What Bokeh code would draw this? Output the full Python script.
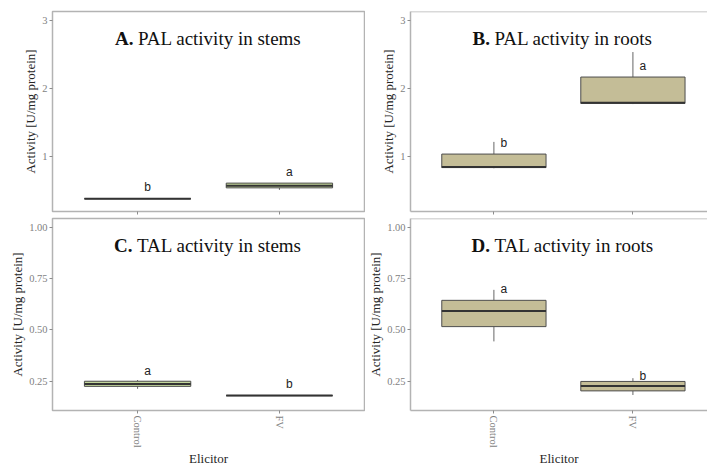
from bokeh.plotting import figure
from bokeh.layouts import row, column
from bokeh.models import Range1d, FixedTicker, Label, Span, ColumnDataSource, PrintfTickFormatter
from bokeh.core.properties import value
from bokeh.embed import file_html
from bokeh.resources import INLINE

# ---------------- data ----------------
categories = ["Control", "FV"]

pal_stem_q1 = [0.37, 0.53]
pal_stem_med = [0.37, 0.56]
pal_stem_q3 = [0.37, 0.60]
pal_stem_lo = [0.37, 0.50]
pal_stem_hi = [0.37, 0.60]
pal_stem_letters = ["b", "a"]
pal_stem_letter_y = [0.55, 0.77]

pal_root_q1 = [0.83, 1.78]
pal_root_med = [0.84, 1.79]
pal_root_q3 = [1.03, 2.17]
pal_root_lo = [0.82, 1.77]
pal_root_hi = [1.21, 2.54]
pal_root_letters = ["b", "a"]
pal_root_letter_y = [1.20, 2.34]

tal_stem_q1 = [0.225, 0.18]
tal_stem_med = [0.236, 0.18]
tal_stem_q3 = [0.25, 0.18]
tal_stem_lo = [0.213, 0.18]
tal_stem_hi = [0.256, 0.18]
tal_stem_letters = ["a", "b"]
tal_stem_letter_y = [0.298, 0.236]

tal_root_q1 = [0.516, 0.203]
tal_root_med = [0.592, 0.227]
tal_root_q3 = [0.644, 0.249]
tal_root_lo = [0.444, 0.183]
tal_root_hi = [0.695, 0.265]
tal_root_letters = ["a", "b"]
tal_root_letter_y = [0.70, 0.277]

pal_ticks = [1, 2, 3]
tal_ticks = [0.25, 0.50, 0.75, 1.00]

# ---------------- style ----------------
GREEN = "#c3d69b"
TAN = "#c4bd97"
FRAME = "#b3b3b3"
SERIF = "Liberation Serif"
SANS = "Liberation Sans"

positions = [i + 1 for i in range(len(categories))]
BOX_W = 0.75
X_LO, X_HI = 0.4, 2.6
FULL_FRAME_W = 312


def panel(bold, rest, offs, q1, med, q3, lo, hi, letters, ly, fill,
          yr, ticks, fmt, bottom_row, right_col):
    frame_w = 303 if right_col else FULL_FRAME_W
    x_end = X_LO + (X_HI - X_LO) * frame_w / FULL_FRAME_W
    width = 342 if right_col else 365
    height = 251 if bottom_row else 217
    p = figure(width=width, height=height, output_backend="svg", toolbar_location=None,
               x_range=Range1d(X_LO, x_end), y_range=Range1d(*yr),
               min_border_left=39 if right_col else 52,
               min_border_right=0 if right_col else 1,
               min_border_top=1 if bottom_row else 11,
               min_border_bottom=50 if bottom_row else 6)
    p.xgrid.visible = False
    p.ygrid.visible = False
    p.background_fill_color = "white"
    p.border_fill_color = "white"
    if right_col:
        p.outline_line_color = None
        p.add_layout(Span(location=yr[1], dimension="width", line_color=FRAME, line_width=1.5))
    else:
        p.outline_line_color = FRAME
        p.outline_line_width = 1.5

    for ax in (p.xaxis[0], p.yaxis[0]):
        ax.axis_line_color = FRAME if right_col else None
        ax.axis_line_width = 1.5
        ax.major_tick_line_color = "#8c8c8c"
        ax.major_tick_out = 3
        ax.major_tick_in = 0
        ax.minor_tick_line_color = None
        ax.major_label_text_font = SERIF
        ax.major_label_text_font_size = "10.5px"
        ax.major_label_text_color = "#7f7f7f"
        ax.axis_label_text_font = SERIF
        ax.axis_label_text_font_size = "13px"
        ax.axis_label_text_font_style = "normal"
        ax.axis_label_text_color = "#262626"

    ya = p.yaxis[0]
    ya.ticker = FixedTicker(ticks=ticks)
    ya.formatter = PrintfTickFormatter(format=fmt)
    ya.axis_label = "Activity [U/mg protein]"
    ya.axis_label_standoff = 1
    ya.major_label_standoff = 2

    xa = p.xaxis[0]
    xa.ticker = FixedTicker(ticks=positions)
    if bottom_row:
        xa.major_label_overrides = {float(pos): cat for pos, cat in zip(positions, categories)}
        xa.major_label_orientation = "vertical"
        xa.axis_label = "Elicitor"
        xa.axis_label_standoff = 0
        xa.major_label_standoff = 2
    else:
        xa.major_label_text_color = None
        xa.major_label_text_font_size = "0px"
        xa.major_label_standoff = 0

    src = ColumnDataSource(dict(
        x=positions, q1=q1, med=med, q3=q3, lo=lo, hi=hi,
        left=[x - BOX_W / 2 for x in positions], right=[x + BOX_W / 2 for x in positions],
        ly=ly, lt=letters))
    p.segment(x0="x", y0="lo", x1="x", y1="q1", line_color="#666666", line_width=1, source=src)
    p.segment(x0="x", y0="q3", x1="x", y1="hi", line_color="#666666", line_width=1, source=src)
    p.vbar(x="x", width=BOX_W, top="q3", bottom="q1", fill_color=fill,
           line_color="#4d4d4d", line_width=1, source=src)
    p.segment(x0="left", y0="med", x1="right", y1="med", line_color="#333333",
              line_width=2, source=src)
    p.text(x="x", y="ly", text="lt", x_offset=10, text_align="center", text_baseline="middle",
           text_font=value(SANS), text_font_size="12px", text_color="#222222", source=src)

    xc = (X_LO + X_HI) / 2
    p.add_layout(Label(x=xc, y=yr[1], text=bold, text_align="right", text_baseline="alphabetic",
                       x_offset=offs[0], y_offset=-26.5, text_font=SERIF, text_font_size="19px",
                       text_font_style="bold", text_color="#111111"))
    p.add_layout(Label(x=xc, y=yr[1], text=rest, text_align="left", text_baseline="alphabetic",
                       x_offset=offs[1], y_offset=-26.5, text_font=SERIF, text_font_size="19px",
                       text_color="#111111"))
    return p


pal_yr = (0.18, 3.14)
tal_yr = (0.1075, 1.0425)

pA = panel("A.", "PAL activity in stems", (-75, -70.5), pal_stem_q1, pal_stem_med, pal_stem_q3,
           pal_stem_lo, pal_stem_hi, pal_stem_letters, pal_stem_letter_y, GREEN,
           pal_yr, pal_ticks, "%d", False, False)
pB = panel("B.", "PAL activity in roots", (-73.5, -69), pal_root_q1, pal_root_med, pal_root_q3,
           pal_root_lo, pal_root_hi, pal_root_letters, pal_root_letter_y, TAN,
           pal_yr, pal_ticks, "%d", False, True)
pC = panel("C.", "TAL activity in stems", (-76, -71.5), tal_stem_q1, tal_stem_med, tal_stem_q3,
           tal_stem_lo, tal_stem_hi, tal_stem_letters, tal_stem_letter_y, GREEN,
           tal_yr, tal_ticks, "%.2f", True, False)
pD = panel("D.", "TAL activity in roots", (-73.5, -69), tal_root_q1, tal_root_med, tal_root_q3,
           tal_root_lo, tal_root_hi, tal_root_letters, tal_root_letter_y, TAN,
           tal_yr, tal_ticks, "%.2f", True, True)

layout = row(column(pA, pC), column(pB, pD))
open("out.html", "w").write(file_html(layout, INLINE))
